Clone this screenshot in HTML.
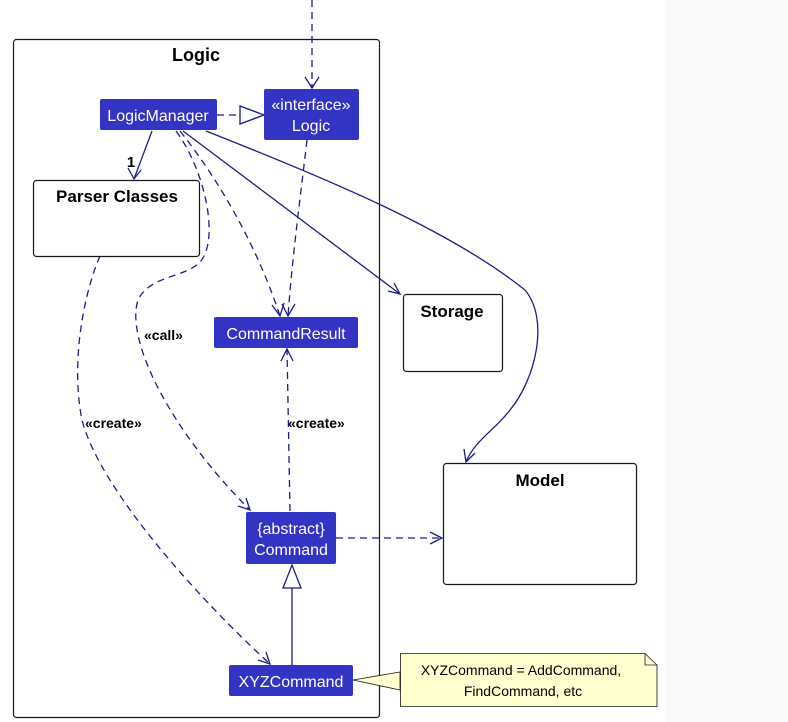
<!DOCTYPE html>
<html><head><meta charset="utf-8"><style>
html,body{margin:0;padding:0;background:#fff}
svg{display:block}
text{font-family:"Liberation Sans",sans-serif}
</style></head><body>
<svg width="788" height="722" viewBox="0 0 788 722" xmlns="http://www.w3.org/2000/svg">
<rect x="665" y="0" width="123" height="722" fill="#fafafa"/>
<rect x="13.5" y="39.5" width="366" height="678" rx="3" fill="none" stroke="#181818" stroke-width="1.2"/>
<text x="196" y="61" font-size="18" font-weight="bold" text-anchor="middle">Logic</text>

<g fill="none" stroke="#1c1c8a" stroke-width="1.3">
 <path d="M312 0 L312 88" stroke-dasharray="7 5"/>
 <path d="M305 77 L312 88 L319 77"/>
 <path d="M217 115 L240 115" stroke-dasharray="7 5"/>
 <path d="M240 106 L264 115 L240 124 Z" fill="#fff"/>
 <path d="M152 131 L134 179"/>
 <path d="M128 168 L134 179 L141 170"/>
 <path d="M183 131 L400 294"/>
 <path d="M388 291 L400 294 L394 283"/>
 <path d="M206 131 C 330 180, 450 230, 525 290 C 550 320, 535 380, 510 410 C 495 430, 475 440, 466 462"/>
 <path d="M464 449 L466 462 L475 453"/>
 <path d="M180 131 C 215 175, 255 240, 280 316" stroke-dasharray="7 5"/>
 <path d="M272 305 L280 316 L284 303"/>
 <path d="M307 140 C 300 200, 292 260, 288 316" stroke-dasharray="7 5"/>
 <path d="M282 304 L288 316 L295 304"/>
 <path d="M176 131 C 205 170, 220 240, 200 262 C 185 278, 150 275, 138 300 C 125 340, 170 430, 250 510" stroke-dasharray="7 5"/>
 <path d="M238 506 L250 510 L246 498"/>
 <path d="M100 256 C 85 290, 70 360, 82 420 C 100 490, 200 600, 270 664" stroke-dasharray="7 5"/>
 <path d="M258 660 L270 664 L266 652"/>
 <path d="M290 511 L287 349" stroke-dasharray="7 5"/>
 <path d="M281 361 L287 349 L293 361"/>
 <path d="M336 538 L442 538" stroke-dasharray="7 5"/>
 <path d="M430 532 L442 538 L430 544"/>
 <path d="M292 665 L292 588"/>
 <path d="M283 588 L292 565 L301 588 Z" fill="#fff"/>
</g>

<rect x="33.5" y="180.5" width="166" height="76" rx="3" fill="#fff" stroke="#181818" stroke-width="1.2"/>
<text x="117" y="202" font-size="17" font-weight="bold" text-anchor="middle">Parser Classes</text>
<text x="131" y="167" font-size="15" font-weight="bold" text-anchor="middle">1</text>
<rect x="403.5" y="294.5" width="99" height="77" rx="3" fill="#fff" stroke="#181818" stroke-width="1.2"/>
<text x="452" y="317" font-size="17" font-weight="bold" text-anchor="middle">Storage</text>
<rect x="443.5" y="463.5" width="193" height="121" rx="3" fill="#fff" stroke="#181818" stroke-width="1.2"/>
<text x="540" y="486" font-size="17" font-weight="bold" text-anchor="middle">Model</text>

<g fill="#3333c4">
 <rect x="100" y="99" width="117" height="31" rx="2"/>
 <rect x="264" y="89" width="95" height="51" rx="2"/>
 <rect x="214" y="317" width="144" height="31" rx="2"/>
 <rect x="246" y="512" width="90" height="52" rx="2"/>
 <rect x="229" y="665" width="124" height="31" rx="2"/>
</g>
<g fill="#fff" font-size="16" text-anchor="middle">
 <text x="158" y="121">LogicManager</text>
 <text x="311" y="110">«interface»</text>
 <text x="311" y="131">Logic</text>
 <text x="286" y="339">CommandResult</text>
 <text x="291" y="534">{abstract}</text>
 <text x="291" y="555">Command</text>
 <text x="291" y="687">XYZCommand</text>
</g>
<g font-size="14" font-weight="bold">
 <text x="144" y="340">«call»</text>
 <text x="85" y="428">«create»</text>
 <text x="288" y="428">«create»</text>
</g>
<path d="M353 680 L400 672 L400 690 Z" fill="#fefece" stroke="#181818" stroke-width="0.8"/>
<path d="M400.5 653.5 L645 653.5 L657 665 L657 706.5 L400.5 706.5 Z" fill="#fefece" stroke="#181818" stroke-width="0.8"/>
<path d="M645 653.5 L645 665 L657 665" fill="none" stroke="#181818" stroke-width="0.8"/>
<g font-size="14" text-anchor="middle">
 <text x="521" y="675">XYZCommand = AddCommand,</text>
 <text x="523" y="696">FindCommand, etc</text>
</g>
</svg>
</body></html>
